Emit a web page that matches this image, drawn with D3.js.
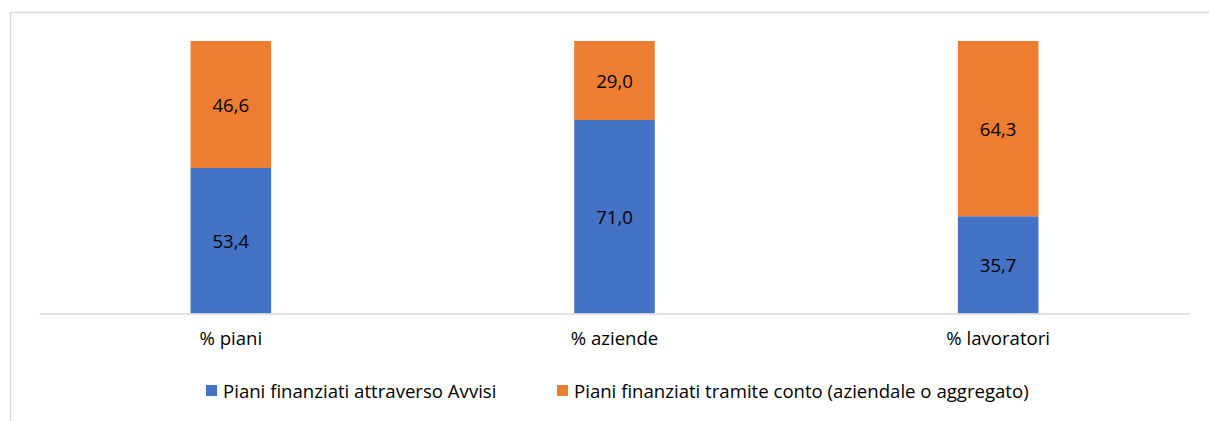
<!DOCTYPE html>
<html>
<head>
<meta charset="utf-8">
<script src="https://cdn.jsdelivr.net/npm/d3@7"></script>
<style>
  html, body { margin: 0; padding: 0; background: #fff; }
  svg { display: block; }
  text { font-family: "Open Sans", Lato, sans-serif; fill: #000; }
</style>
</head>
<body>
<svg id="chart" width="1209" height="421"></svg>
<script>
// Share of training plans by funding channel
const categories = ["% piani", "% aziende", "% lavoratori"];
const seriesNames = [
  "Piani finanziati attraverso Avvisi",
  "Piani finanziati tramite conto (aziendale o aggregato)"
];
const avvisiValues = [53.4, 71.0, 35.7];
const contoValues = [46.6, 29.0, 64.3];
const seriesColors = ["#4472C4", "#ED7D31"];

const fmt = v => v.toFixed(1).replace(".", ",");
const FONT = "18.6px";

const svg = d3.select("#chart");
const W = 1209, H = 421;

// chart frame
svg.append("path")
  .attr("d", `M10.5,${H} V12.5 H${W}`)
  .attr("fill", "none")
  .attr("stroke", "#d9d9d9")
  .attr("stroke-width", 1.5);

const plot = { left: 39, right: 1190, top: 41, bottom: 313.5 };

const x = d3.scaleBand()
  .domain(categories)
  .range([plot.left, plot.right])
  .paddingInner(0.79)
  .paddingOuter(0.395);

const y = d3.scaleLinear()
  .domain([0, 100])
  .range([plot.bottom, plot.top]);

const rows = categories.map((c, i) => ({ cat: c, avvisi: avvisiValues[i], conto: contoValues[i] }));
const stack = d3.stack().keys(["avvisi", "conto"])(rows);

const bw = x.bandwidth();

stack.forEach((layer, li) => {
  const g = svg.append("g");
  g.selectAll("rect")
    .data(layer)
    .join("rect")
    .attr("x", d => x(d.data.cat))
    .attr("y", d => y(d[1]))
    .attr("width", bw)
    .attr("height", d => y(d[0]) - y(d[1]))
    .attr("fill", seriesColors[li]);
  g.selectAll("text")
    .data(layer)
    .join("text")
    .attr("x", d => x(d.data.cat) + bw / 2)
    .attr("y", d => (y(d[0]) + y(d[1])) / 2)
    .attr("text-anchor", "middle")
    .attr("dominant-baseline", "central")
    .style("font-size", FONT)
    .text(d => fmt(d[1] - d[0]));
});

// category axis
const axis = svg.append("g")
  .attr("transform", `translate(0,${plot.bottom})`)
  .call(d3.axisBottom(x).tickSize(0).tickPadding(18));
axis.select(".domain").attr("stroke", "#d9d9d9").attr("stroke-width", 1.5);
axis.selectAll("text")
  .style("font-family", "'Open Sans', Lato, sans-serif")
  .style("font-size", FONT)
  .attr("fill", "#000");

// legend
const legendItems = [
  { name: seriesNames[0], color: seriesColors[0], x: 206 },
  { name: seriesNames[1], color: seriesColors[1], x: 557 }
];
const lg = svg.append("g");
legendItems.forEach(it => {
  lg.append("rect")
    .attr("x", it.x).attr("y", 385)
    .attr("width", 11).attr("height", 11)
    .attr("fill", it.color);
  lg.append("text")
    .attr("x", it.x + 17).attr("y", 390.5)
    .attr("dominant-baseline", "central")
    .style("font-size", FONT)
    .text(it.name);
});
</script>
</body>
</html>
